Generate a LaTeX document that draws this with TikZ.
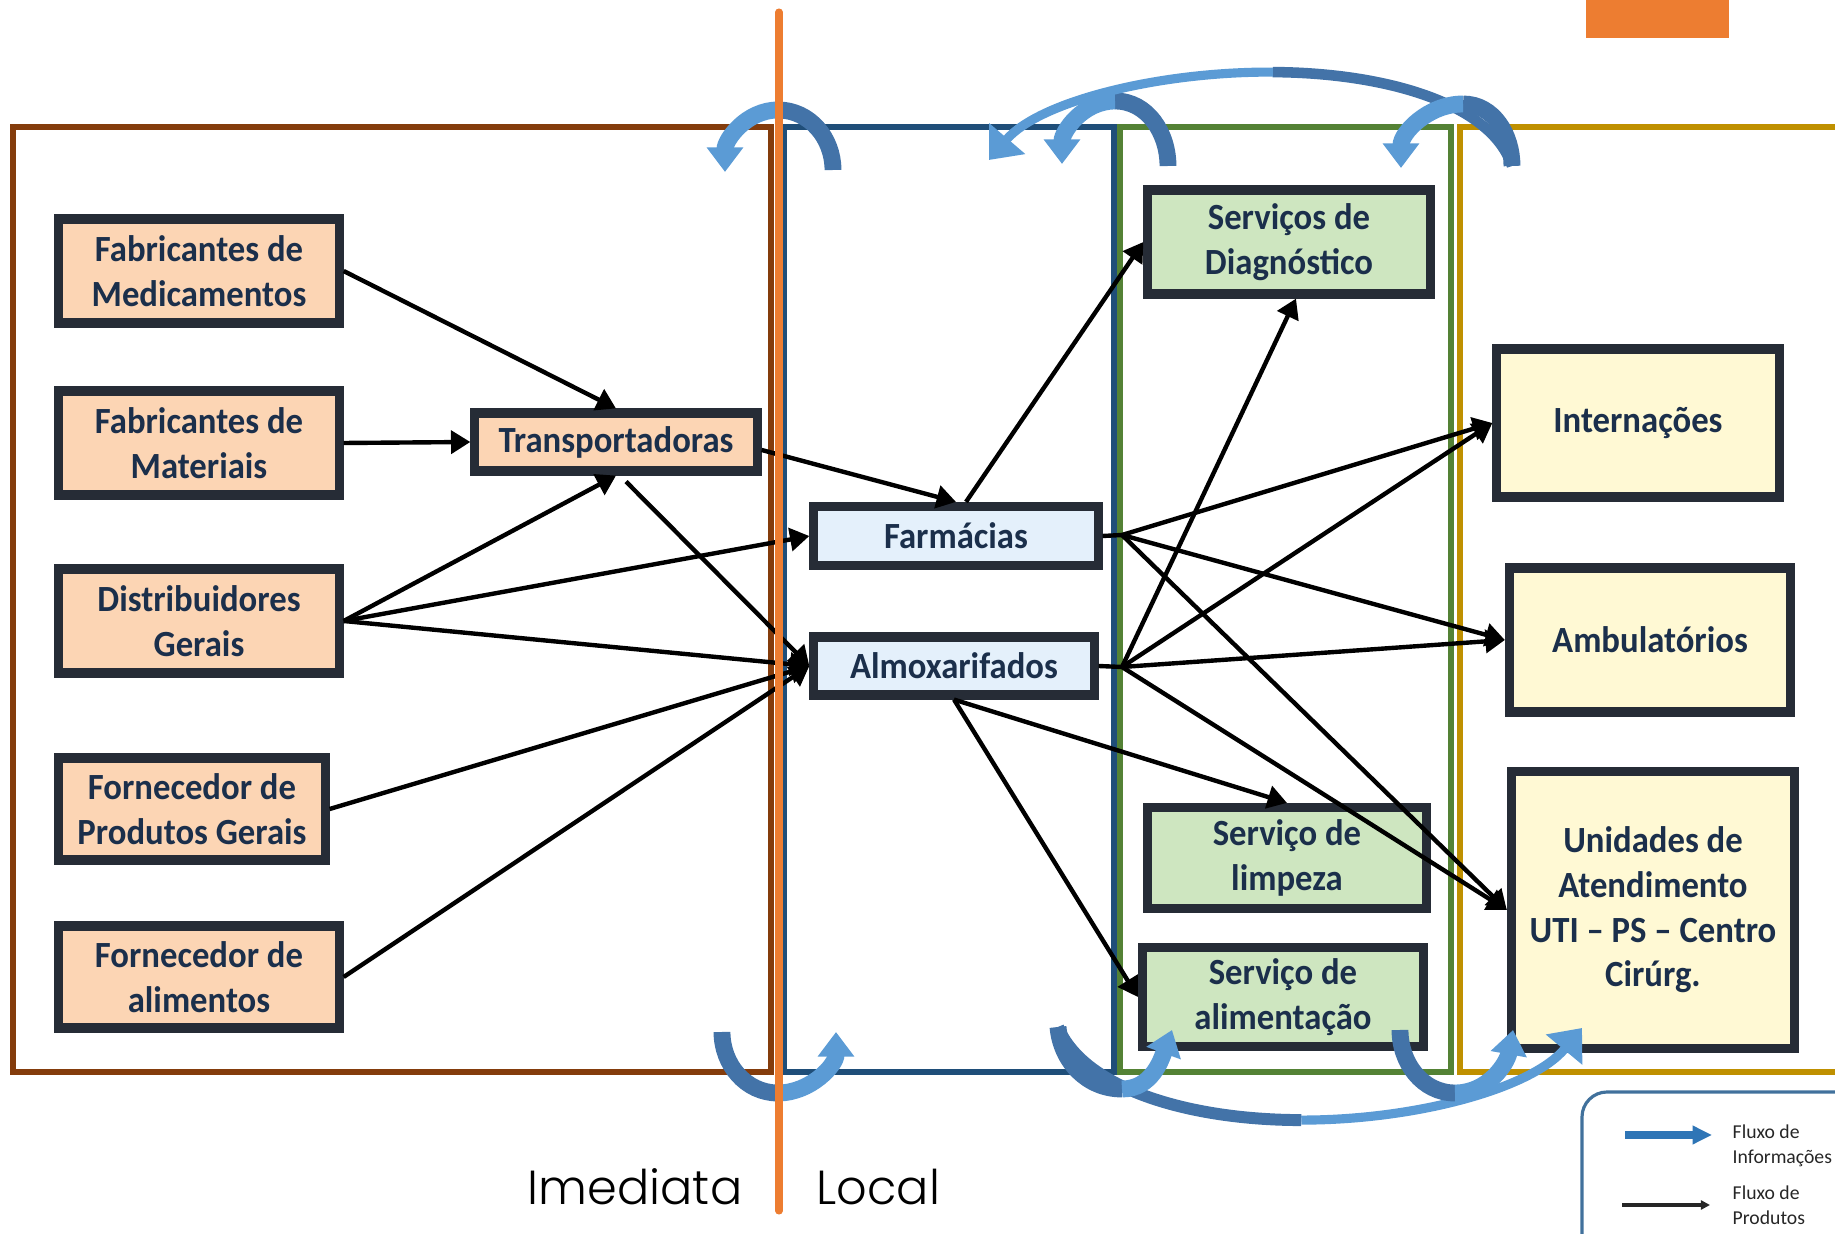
\documentclass[tikz,border=0pt]{standalone}
\usepackage{fontspec}
\setmainfont{Carlito}
\newfontfamily\boxfont{Carlito}[FakeStretch=0.94]
\newfontfamily\gothicfont{Poppins Light}
\usetikzlibrary{arrows.meta}

\definecolor{boxline}{HTML}{262C36}
\definecolor{boxtext}{HTML}{1B2F4B}
\definecolor{supfill}{HTML}{FCD5B4}
\definecolor{locfill}{HTML}{E4F0FB}
\definecolor{servfill}{HTML}{CEE6C0}
\definecolor{unitfill}{HTML}{FFF9D4}
\definecolor{brownline}{HTML}{843C0C}
\definecolor{blueline}{HTML}{1F4E79}
\definecolor{greenline}{HTML}{548235}
\definecolor{goldline}{HTML}{BF9000}
\definecolor{orangeline}{HTML}{ED7D31}
\definecolor{infodark}{HTML}{4373A8}
\definecolor{infolight}{HTML}{5B9BD5}
\definecolor{legendline}{HTML}{41719C}
\definecolor{legendblue}{HTML}{2E75B6}

\begin{document}
\begin{tikzpicture}[x=0.01cm,y=-0.01cm,
    box/.style={draw=boxline,line width=2.6pt,align=center,text=boxtext,inner sep=0pt,
        font=\boxfont\bfseries\fontsize{10.5}{12.7}\selectfont},
    flow/.style={line width=1.25pt,-{Triangle[width=6.5pt,length=5.5pt]}},
    infotail/.style={draw=infodark,line width=4.8pt},
    infohead/.style={draw=infolight,line width=4.8pt,-{Triangle[width=10pt,length=7pt]}},
    region/.style={line width=1.5pt}]
    \useasboundingbox (0,0) rectangle (1835,1234);

    % regions
    \draw[region,brownline] (13,127) rectangle (771,1072);
    \draw[region,blueline] (784,127) rectangle (1114,1072);
    \draw[region,greenline] (1120,127) rectangle (1451,1072);
    \draw[region,goldline] (1840,127) -| (1460,1072) -- (1840,1072);
    \fill[orangeline] (1586,0) rectangle (1729,38);

    % suppliers
    \node[box,fill=supfill,minimum width=2.8cm,minimum height=1.04cm] (med) at (199,271) {Fabricantes de\\Medicamentos};
    \node[box,fill=supfill,minimum width=2.8cm,minimum height=1.04cm] (mat) at (199,443) {Fabricantes de\\Materiais};
    \node[box,fill=supfill,minimum width=2.8cm,minimum height=1.04cm] (dist) at (199,621) {Distribuidores\\Gerais};
    \node[box,fill=supfill,minimum width=2.66cm,minimum height=1.02cm] (prod) at (192,809) {Fornecedor de\\Produtos Gerais};
    \node[box,fill=supfill,minimum width=2.8cm,minimum height=1.02cm] (alim) at (199,977) {Fornecedor de\\alimentos};
    \node[box,fill=supfill,minimum width=2.82cm,minimum height=0.58cm] (transp) at (616,442) {Transportadoras};

    % local
    \node[box,fill=locfill,minimum width=2.84cm,minimum height=0.59cm] (farm) at (956,536) {Farmácias};
    \node[box,fill=locfill,minimum width=2.8cm,minimum height=0.58cm] (almox) at (954,666) {Almoxarifados};

    % services
    \node[box,fill=servfill,minimum width=2.82cm,minimum height=1.04cm] (diag) at (1289,242) {Serviços de\\Diagnóstico};
    \node[box,fill=servfill,minimum width=2.79cm,minimum height=1.01cm] (limp) at (1287,858) {Serviço de\\limpeza};
    \node[box,fill=servfill,minimum width=2.81cm,minimum height=0.99cm] (alimserv) at (1283,997) {Serviço de\\alimentação};

    % units
    \node[box,fill=unitfill,minimum width=2.82cm,minimum height=1.48cm] (intern) at (1638,423) {Internações};
    \node[box,fill=unitfill,minimum width=2.81cm,minimum height=1.44cm] (ambul) at (1650,640) {Ambulatórios};
    \node[box,fill=unitfill,minimum width=2.83cm,minimum height=2.77cm] (unid) at (1653,910) {Unidades de\\Atendimento\\UTI – PS – Centro\\Cirúrg.};

    % products
    \draw[flow] (med.east) -- (transp.north);
    \draw[flow] (mat.east) -- (transp.west);
    \draw[flow] (dist.east) -- (transp.south);
    \draw[flow] (dist.east) -- (farm.west);
    \draw[flow] (dist.east) -- (almox.west);
    \draw[flow] ([xshift=0.1cm,yshift=-0.06cm]transp.south) -- (almox.west);
    \draw[flow] ([yshift=-0.08cm]transp.east) -- (farm.north);
    \draw[flow] (prod.east) -- (almox.west);
    \draw[flow] (alim.east) -- (almox.west);

    \coordinate (farmhub) at (1122,535);
    \coordinate (almoxhub) at (1122,667);
    \draw[line width=1.25pt] (farm.east) -- (farmhub);
    \draw[line width=1.25pt] (almox.east) -- (almoxhub);
    \draw[flow] ([xshift=0.1cm]farm.north) -- (diag.west);
    \draw[flow] (almoxhub) -- ([xshift=0.07cm]diag.south);
    \draw[flow] (farmhub) -- (intern.west);
    \draw[flow] (farmhub) -- (ambul.west);
    \draw[flow] (farmhub) -- (unid.west);
    \draw[flow] (almoxhub) -- (intern.west);
    \draw[flow] (almoxhub) -- (ambul.west);
    \draw[flow] (almoxhub) -- (unid.west);
    \draw[flow] (almox.south) -- (limp.north);
    \draw[flow] (almox.south) -- (alimserv.west);

    % information, top
    \coordinate (tl tail) at (833,170);
    \coordinate (tl top) at (778,110);
    \coordinate (tl head) at (725,172);
    \coordinate (tm tail) at (1168,166);
    \coordinate (tm top) at (1115,101);
    \coordinate (tm head) at (1062,164);
    \coordinate (tr tail) at (1512,166);
    \coordinate (tr top) at (1463,104);
    \coordinate (tr head) at (1401,168);
    \coordinate (big top) at (1272.75,72.1);
    \coordinate (big head) at (989,160);
    \draw[infotail] (tl tail) to[out=90,in=0] (tl top);
    \draw[infohead] (tl top) to[out=180,in=90] (tl head);
    \draw[infotail] (tm tail) to[out=90,in=0] (tm top);
    \draw[infohead] (tm top) to[out=180,in=90] (tm head);
    \draw[infotail,line width=3pt] (tr tail) .. controls (1491.5,103.5) and (1385.75,72.75) .. (big top);
    \draw[infohead,line width=2.6pt,-{Triangle[width=13pt,length=8pt]}] (big top) .. controls (1159.75,71.5) and (1039.5,101) .. (big head);
    \draw[infotail] (tr tail) to[out=90,in=0] (tr top);
    \draw[infohead] (tr top) to[out=180,in=90] (tr head);

    % information, bottom
    \coordinate (bl tail) at (722,1032);
    \coordinate (bl low) at (778,1093);
    \coordinate (bl head) at (836,1032);
    \coordinate (bm tail) at (1058,1027);
    \coordinate (bm low) at (1301.25,1120.1);
    \coordinate (bm head) at (1582,1028);
    \coordinate (bs low) at (1122,1089);
    \coordinate (bs head) at (1172,1030);
    \coordinate (br tail) at (1400,1030);
    \coordinate (br low) at (1455,1093);
    \coordinate (br head) at (1513,1030);
    \draw[infotail] (bl tail) to[out=-90,in=180] (bl low);
    \draw[infohead] (bl low) to[out=0,in=-90] (bl head);
    \draw[infotail,line width=3.4pt] (bm tail) .. controls (1084,1089) and (1189.5,1120) .. (bm low);
    \draw[infohead,line width=2.6pt,-{Triangle[width=13pt,length=8pt]}] (bm low) .. controls (1413,1120.25) and (1531,1089.5) .. (bm head);
    \draw[infotail] (bm tail) to[out=-85,in=180] (bs low);
    \draw[infohead] (bs low) to[out=0,in=-110] (bs head);
    \draw[infotail] (br tail) to[out=-90,in=180] (br low);
    \draw[infohead] (br low) to[out=0,in=-100] (br head);

    % divider
    \draw[orangeline,line width=2pt,line cap=round] (779,12) -- (779,1211);
    \node[font=\gothicfont\fontsize{13.6}{16}\selectfont,anchor=base east,inner sep=0pt] (imediata) at (743,1205) {Imediata};
    \node[font=\gothicfont\fontsize{13.6}{16}\selectfont,anchor=base west,inner sep=0pt] (local) at (816,1205) {Local};

    % legend
    \draw[legendline,line width=0.9pt,rounded corners=0.25cm] (1582,1092) rectangle (1870,1270);
    \coordinate (li start) at (1625,1135);
    \coordinate (li end) at (1712,1135);
    \coordinate (lp start) at (1622,1205);
    \coordinate (lp end) at (1710,1205);
    \draw[legendblue,line width=2pt,-{Triangle[width=5pt,length=5.5pt]}] (li start) -- (li end);
    \draw[black!85,line width=0.9pt,-{Triangle[width=2.6pt,length=2.6pt]}] (lp start) -- (lp end);
    \node[anchor=west,align=left,inner sep=0pt,text=black!85,font=\fontsize{5.6}{7.1}\selectfont] (info lab) at (1732,1146) {Fluxo de\\Informações};
    \node[anchor=west,align=left,inner sep=0pt,text=black!85,font=\fontsize{5.6}{7.1}\selectfont] (prod lab) at (1732,1205) {Fluxo de\\Produtos};
\end{tikzpicture}
\end{document}
